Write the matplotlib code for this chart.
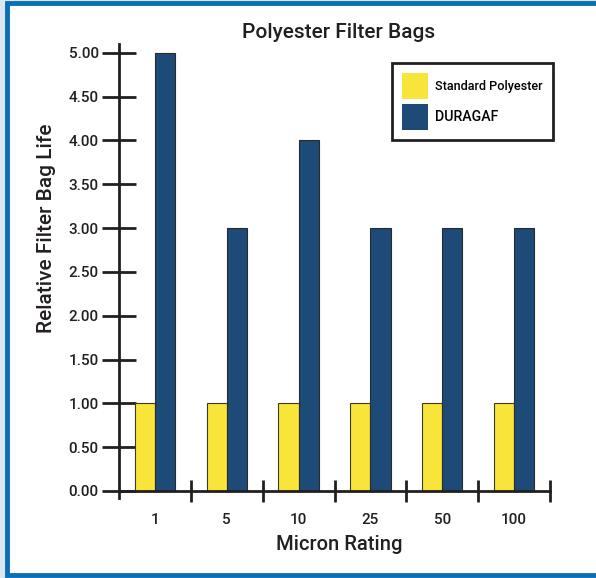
import matplotlib.pyplot as plt
from matplotlib.patches import Rectangle
import numpy as np

plt.rcParams['font.family'] = ['Roboto', 'DejaVu Sans']

# data
microns = ['1', '5', '10', '25', '50', '100']
standard = [1.0, 1.0, 1.0, 1.0, 1.0, 1.0]
duragaf = [5.0, 3.0, 4.0, 3.0, 3.0, 3.0]
y_ticks = [0.0, 0.5, 1.0, 1.5, 2.0, 2.5, 3.0, 3.5, 4.0, 4.5, 5.0]

yellow = '#f9e43a'
navy = '#1d4a77'
ink = '#231f20'

fig = plt.figure(figsize=(5.96, 5.78), dpi=100, facecolor='#dde6f3')

# white card with blue frame
fig.patches.append(Rectangle((7 / 596, 3 / 578), 1.2, 572 / 578, transform=fig.transFigure,
                             facecolor='white', edgecolor='#0b6fb8', linewidth=3.5, zorder=-10))

ax = fig.add_axes([119 / 596, 1 - 498 / 578, 431 / 596, 454 / 578])
ax.set_facecolor('none')

x = np.arange(len(microns)) + 0.5
w = 0.28
ax.bar(x - w / 2, standard, w, color=yellow, edgecolor='#3a3a2a', linewidth=0.8, label='Standard Polyester', zorder=2)
ax.bar(x + w / 2, duragaf, w, color=navy, edgecolor='#2a2a2a', linewidth=0.8, label='DURAGAF', zorder=2)

ax.set_xlim(0, len(microns))
ax.set_ylim(-0.08, 5.1)

for s in ['top', 'right']:
    ax.spines[s].set_visible(False)
ax.spines['bottom'].set_position(('data', 0))
ax.spines['left'].set_linewidth(2)
ax.spines['bottom'].set_linewidth(2)
ax.spines['left'].set_color(ink)
ax.spines['bottom'].set_color(ink)

ax.set_yticks(y_ticks)
ax.set_yticklabels([f'{v:.2f}' for v in y_ticks], fontsize=11, color=ink, fontweight='medium')
ax.tick_params(axis='y', direction='inout', length=25, width=2, color=ink, pad=2)

ax.set_xticks(np.arange(1, len(microns) + 1))
ax.set_xticklabels([])
ax.tick_params(axis='x', which='major', direction='inout', length=16, width=2, color=ink)
ax.set_xticks(x, minor=True)
ax.set_xticklabels(microns, minor=True, fontsize=11, color=ink, fontweight='medium')
ax.tick_params(axis='x', which='minor', length=0, pad=16)

fig.text(339 / 596, 1 - 32 / 578, 'Polyester Filter Bags', ha='center', va='center', fontsize=15,
         color=ink, fontweight='medium')
fig.text(339 / 596, 1 - 545 / 578, 'Micron Rating', ha='center', va='center', fontsize=14.5,
         color=ink, fontweight='medium')
fig.text(47 / 596, 1 - 228 / 578, 'Relative Filter Bag Life', ha='center', va='center', rotation=90,
         fontsize=15, color=ink, fontweight='medium')

leg = ax.legend(loc='upper left', bbox_to_anchor=(392 / 596, 1 - 63 / 578), bbox_transform=fig.transFigure,
                fancybox=False, edgecolor=ink, framealpha=1, handlelength=1.87, handleheight=2.5,
                borderpad=0.7, labelspacing=0.4, handletextpad=0.55, borderaxespad=0)
leg.get_frame().set_linewidth(2)
texts = leg.get_texts()
texts[0].set_fontsize(9.1)
texts[1].set_fontsize(10.2)
for t in texts:
    t.set_fontweight('medium')
for h in leg.legend_handles:
    h.set_edgecolor('none')

fig.savefig('out.png', dpi=100, facecolor=fig.get_facecolor())
